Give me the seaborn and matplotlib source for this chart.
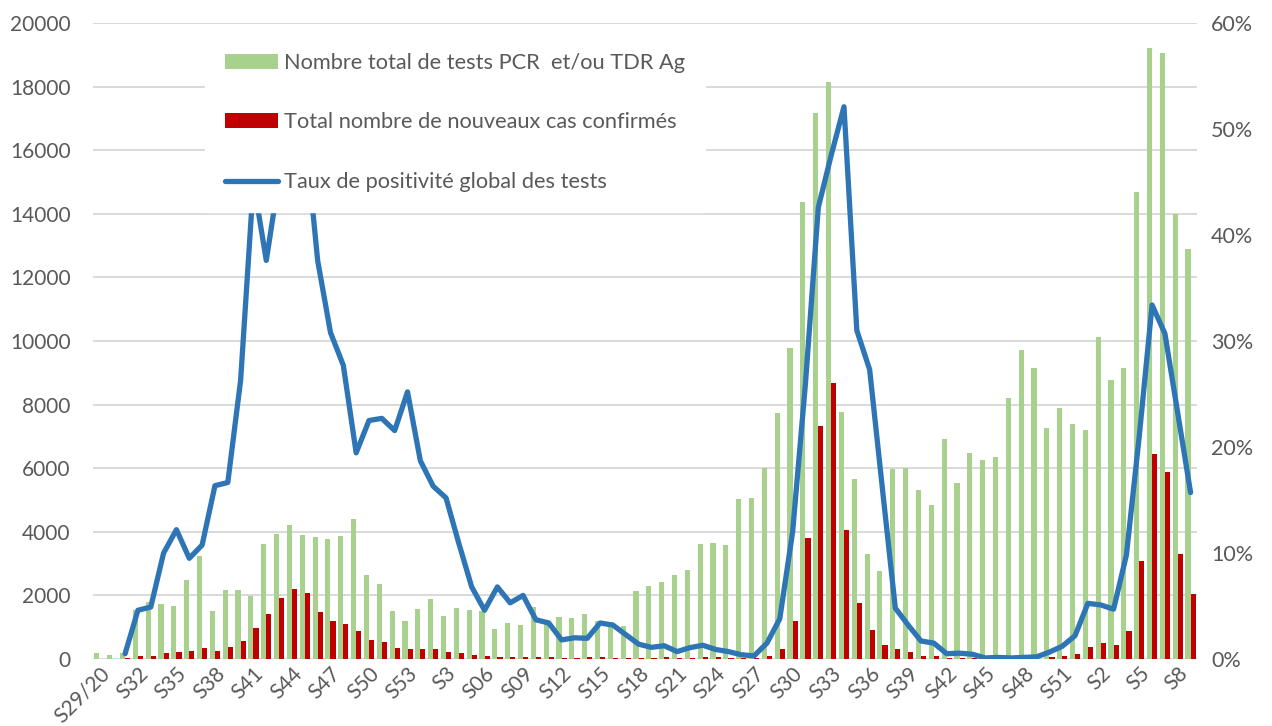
import numpy as np
import pandas as pd
import matplotlib
matplotlib.use("Agg")
import matplotlib.pyplot as plt
import seaborn as sns
from matplotlib.patches import Patch
from matplotlib.lines import Line2D
from matplotlib.ticker import PercentFormatter, MultipleLocator

# ---------------- data ----------------
weeks = [
    "S29/20", "S30", "S31", "S32", "S33", "S34", "S35", "S36", "S37", "S38",
    "S39", "S40", "S41", "S42", "S43", "S44", "S45", "S46", "S47", "S48",
    "S49", "S50", "S51", "S52", "S53",
    "S1", "S2", "S3", "S04", "S05", "S06", "S07", "S08", "S09", "S10",
    "S11", "S12", "S13", "S14", "S15", "S16", "S17", "S18", "S19", "S20",
    "S21", "S22", "S23", "S24", "S25", "S26", "S27", "S28", "S29", "S30",
    "S31", "S32", "S33", "S34", "S35", "S36", "S37", "S38", "S39", "S40",
    "S41", "S42", "S43", "S44", "S45", "S46", "S47", "S48", "S49", "S50",
    "S51", "S52",
    "S1/22", "S2", "S3/22", "S4", "S5", "S6", "S7", "S8", "S9",
]
tick_every = 3

tests = [
    180, 130, 200, 1550, 1800, 1720, 1670, 2480, 3250, 1510,
    2170, 2170, 1980, 3610, 3930, 4210, 3900, 3845, 3780, 3870,
    4410, 2640, 2360, 1520, 1205, 1560, 1875, 1350, 1590, 1540,
    1520, 935, 1140, 1070, 1620, 1150, 1310, 1280, 1420, 1200,
    1150, 1030, 2125, 2280, 2415, 2640, 2805, 3620, 3640, 3600,
    5020, 5050, 6020, 7730, 9770, 14360, 17180, 18140, 7770, 5660,
    3300, 2760, 5980, 6020, 5310, 4850, 6925, 5540, 6470, 6270,
    6340, 8220, 9710, 9165, 7260, 7885, 7390, 7210, 10120, 8780,
    9150, 14670, 19220, 19070, 13980, 12890,
]

cases = [
    0, 0, 40, 80, 95, 180, 220, 250, 355, 260,
    390, 580, 985, 1400, 1925, 2195, 2070, 1470, 1180, 1090,
    865, 600, 550, 340, 315, 300, 320, 215, 200, 120,
    85, 75, 65, 75, 75, 50, 40, 40, 60, 60,
    40, 40, 40, 40, 60, 40, 40, 75, 60, 40,
    20, 20, 100, 305, 1190, 3820, 7330, 8680, 4050, 1755,
    900, 450, 305, 205, 95, 85, 35, 35, 20, 5,
    5, 10, 10, 10, 55, 110, 160, 375, 515, 430,
    890, 3070, 6440, 5865, 3300, 2045,
]

rate = [
    np.nan, np.nan, 0.5, 4.6, 4.9, 10.0, 12.2, 9.5, 10.75, 16.35,
    16.65, 26.3, 45.0, 37.6, 45.5, 48.0, 50.0, 37.6, 30.8, 27.7,
    19.45, 22.5, 22.7, 21.55, 25.2, 18.7, 16.3, 15.2, 10.9, 6.8,
    4.6, 6.8, 5.3, 6.0, 3.7, 3.4, 1.8, 2.0, 1.95, 3.4,
    3.2, 2.3, 1.4, 1.1, 1.25, 0.7, 1.07, 1.3, 0.9, 0.7,
    0.4, 0.3, 1.5, 3.8, 12.0, 26.0, 42.6, 47.5, 52.1, 31.0,
    27.3, 16.0, 4.8, 3.2, 1.7, 1.5, 0.5, 0.55, 0.45, 0.1,
    0.15, 0.1, 0.15, 0.2, 0.65, 1.2, 2.2, 5.25, 5.1, 4.7,
    9.8, 21.0, 33.4, 30.7, 23.2, 15.7,
]

lab_tests = "Nombre total de tests PCR  et/ou TDR Ag"
lab_cases = "Total nombre de nouveaux cas confirmés"
lab_rate = "Taux de positivité global des tests"

# ---------------- style ----------------
GREEN = "#A9D18E"
RED = "#C00000"
BLUE = "#2E75B6"
GRID = "#D9D9D9"
TXT = "#595959"

sns.set_theme(style="white")
plt.rcParams["font.family"] = ["Lato", "DejaVu Sans"]

n = len(weeks)
idx = list(range(n))
df = pd.DataFrame({
    "idx": idx * 2,
    "value": tests + cases,
    "serie": [lab_tests] * n + [lab_cases] * n,
})
df_rate = pd.DataFrame({"idx": idx, "rate": rate})

W, H = 1272, 726
fig = plt.figure(figsize=(W / 100, H / 100), dpi=100)
ax = fig.add_axes([93 / W, 1 - 659 / H, 1104 / W, 636 / H])

sns.barplot(data=df, x="idx", y="value", hue="serie",
            hue_order=[lab_tests, lab_cases], palette=[GREEN, RED],
            saturation=1, width=0.8, errorbar=None, linewidth=0,
            legend=False, ax=ax)

ax.set_xlim(-0.5, n - 0.5)
ax.set_ylim(0, 20000)
ax.yaxis.set_major_locator(MultipleLocator(2000))
ax.yaxis.grid(True, color=GRID, lw=1.4)
ax.set_axisbelow(True)
for s in ax.spines.values():
    s.set_visible(False)
ax.set_xlabel("")
ax.set_ylabel("")
ax.tick_params(axis="both", length=0, labelsize=15, labelcolor=TXT)
ax.tick_params(axis="y", pad=16)
ax.tick_params(axis="x", pad=3)
tick_pos = idx[::tick_every]
ax.set_xticks(tick_pos)
ax.set_xticklabels([weeks[i] for i in tick_pos], rotation=45, ha="right",
                   va="top", rotation_mode="anchor")

ax2 = ax.twinx()
sns.lineplot(data=df_rate, x="idx", y="rate", color=BLUE, lw=3.8, ax=ax2)
for ln in ax2.lines:
    ln.set_solid_joinstyle("round")
    ln.set_solid_capstyle("round")
ax2.set_xlim(-0.5, n - 0.5)
ax2.set_ylim(0, 60)
ax2.yaxis.set_major_locator(MultipleLocator(10))
ax2.yaxis.set_major_formatter(PercentFormatter(100, decimals=0))
for s in ax2.spines.values():
    s.set_visible(False)
ax2.set_ylabel("")
ax2.tick_params(axis="y", length=0, labelsize=15.5, labelcolor=TXT, pad=10)
ax2.grid(False)

handles = [
    Patch(facecolor=GREEN, edgecolor="none"),
    Patch(facecolor=RED, edgecolor="none"),
    Line2D([0], [1], color=BLUE, lw=3.8, solid_capstyle="round"),
]
leg = ax2.legend(handles, [lab_tests, lab_cases, lab_rate],
                 loc="upper left", bbox_to_anchor=(0.1018, 0.984),
                 frameon=True, facecolor="white", edgecolor="white",
                 framealpha=1, fancybox=False, fontsize=15.7,
                 handlelength=2.45, handleheight=0.68, handletextpad=0.25,
                 labelspacing=1.82, borderpad=0.9, borderaxespad=0,
                 labelcolor=TXT)
leg.set_zorder(10)

fig.savefig("out.png", dpi=100)
